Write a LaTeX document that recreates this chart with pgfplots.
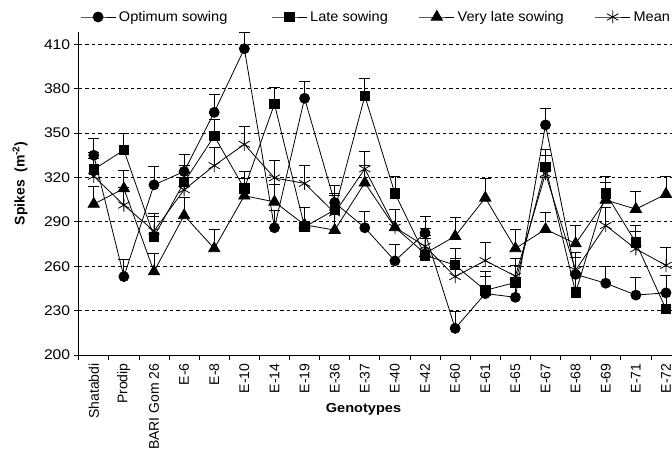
\documentclass[border=0pt]{standalone}
\usepackage{fontspec}
\setmainfont{Liberation Sans}
\newfontfamily\stretchfont[FakeStretch=1.12]{Liberation Sans}
\newfontfamily\legfont[FakeStretch=1.04]{Liberation Sans}
\usepackage{pgfplots}
\pgfplotsset{compat=1.18}
\newcommand\tfont{\stretchfont\fontsize{14bp}{16bp}\selectfont}
\newcommand\lfont{\legfont\fontsize{14bp}{16bp}\selectfont}
\newcommand\rfont{\fontsize{14bp}{16bp}\selectfont}
\begin{document}
\begin{tikzpicture}
\begin{axis}[
  width=593.3bp, height=323.3bp, scale only axis,
  xmin=-0.5, xmax=19.2, ymin=200, ymax=418.5,
  axis x line*=bottom, axis y line*=left,
  axis line style={black, line width=0.8bp},
  clip=false,
  ytick={200,230,...,410},
  /pgf/number format/assume math mode=true,
  yticklabel style={font=\tfont},
  xtick={0,...,19},
  xticklabels={Shatabdi,Prodip,BARI Gom 26,E-6,E-8,E-10,E-14,E-19,E-36,E-37,E-40,E-42,E-60,E-61,E-65,E-67,E-68,E-69,E-71,E-72},
  xticklabel style={font=\rfont, rotate=90, anchor=east},
  major x tick style={draw=none},
  minor xtick={-0.5,0.5,...,18.5},
  tick align=outside,
  major tick length=5bp, minor tick length=5bp,
  tick style={black, line width=0.8bp},
  ymajorgrids,
  grid style={black, line width=0.7bp, dash pattern=on 3.5bp off 3bp},
  every axis y label/.style={at={(rel axis cs:0,0.5)}, anchor=center, rotate=90, xshift=10bp, yshift=58.7bp},
  every axis x label/.style={at={(rel axis cs:0,0)}, anchor=center, xshift=284.8bp, yshift=-54bp},
  ylabel={\fontsize{14bp}{16bp}\selectfont\bfseries Spikes\ \ (m\textsuperscript{-2})},
  xlabel={\stretchfont\fontsize{13bp}{15bp}\selectfont\bfseries Genotypes},
  legend columns=4,
  legend style={draw=none, fill=none, at={(rel axis cs:0,1)}, anchor=west, xshift=-26.7bp, yshift=14.7bp, inner sep=0pt, column sep=0bp, font=\lfont, nodes={inner xsep=3bp, inner ysep=2bp}},
  legend cell align=left,
  legend image code/.code={\path (-28bp,0bp) (35bp,0bp);\draw[mark repeat=2,mark phase=2,#1] plot coordinates {(0bp,0bp)(17.5bp,0bp)(35bp,0bp)};},
  every axis plot/.append style={black, line width=0.8bp},
  error bars/error bar style={black, line width=0.8bp},
  error bars/error mark options={rotate=90, mark size=5.5bp, line width=0.8bp, black},
]
% Optimum sowing
\addplot[black, mark=*, mark size=5bp, mark options={solid, fill=black},
  error bars/.cd, y dir=plus, y explicit] coordinates {
(0,335) +- (0,11.5) (1,253) +- (0,11.3) (2,315) +- (0,12.2) (3,324) +- (0,11.5)
(4,364) +- (0,12.4) (5,407) +- (0,11.3) (6,286) +- (0,11.5) (7,373.5) +- (0,11.3)
(8,303) +- (0,11.5) (9,286) +- (0,11.3) (10,263.6) +- (0,11.3) (11,282.5) +- (0,11.3)
(12,218) +- (0,11.3) (13,241.5) +- (0,11.5) (14,239) +- (0,11.5) (15,355.5) +- (0,11)
(16,254.5) +- (0,11.5) (17,248.5) +- (0,11.3) (18,240.5) +- (0,11.7) (19,242) +- (0,11.5)
};
\addlegendentry{Optimum sowing\kern13bp}
% Late sowing
\addplot[black, mark=square*, mark size=4.7bp, mark options={solid, fill=black},
  error bars/.cd, y dir=plus, y explicit] coordinates {
(0,325.4) +- (0,11.5) (1,338.5) +- (0,11.3) (2,280) +- (0,14) (3,316.8) +- (0,11.5)
(4,348) +- (0,11.5) (5,312.5) +- (0,11.3) (6,369.6) +- (0,11) (7,286.6) +- (0,13)
(8,298) +- (0,11.5) (9,375) +- (0,12) (10,309.2) +- (0,11.7) (11,267.4) +- (0,11.5)
(12,260.7) +- (0,11.3) (13,243.7) +- (0,12.5) (14,249) +- (0,11.5) (15,327.2) +- (0,11.7)
(16,242.2) +- (0,11.5) (17,309.2) +- (0,11.7) (18,276) +- (0,11.3) (19,231) +- (0,11.5)
};
\addlegendentry{Late sowing}
% Very late sowing
\addplot[black, mark=triangle*, mark size=6.5bp, mark options={solid, fill=black},
  error bars/.cd, y dir=plus, y explicit] coordinates {
(0,302) +- (0,11.7) (1,312.5) +- (0,12) (2,256.4) +- (0,12.2) (3,294.3) +- (0,12)
(4,272) +- (0,13) (5,307.6) +- (0,12) (6,303.5) +- (0,12) (7,288) +- (0,12)
(8,284.4) +- (0,12) (9,316.4) +- (0,12) (10,286.2) +- (0,12.4) (11,268.6) +- (0,12)
(12,280.3) +- (0,12.6) (13,306.2) +- (0,13.3) (14,272) +- (0,13) (15,285) +- (0,11.7)
(16,275.3) +- (0,12) (17,304.7) +- (0,12) (18,298.6) +- (0,11.7) (19,308.7) +- (0,12.2)
};
\addlegendentry{Very late sowing}
% Mean
\addplot[black, mark=asterisk, mark size=6.5bp, mark options={solid, line width=0.8bp},
  error bars/.cd, y dir=plus, y explicit] coordinates {
(0,320.8) +- (0,12) (1,301.3) +- (0,12) (2,283.8) +- (0,12) (3,311.7) +- (0,12)
(4,328) +- (0,12) (5,342.4) +- (0,12) (6,319.7) +- (0,12) (7,316) +- (0,12)
(8,296) +- (0,12) (9,325.8) +- (0,12) (10,286.3) +- (0,12) (11,273.5) +- (0,12)
(12,253) +- (0,12) (13,263.8) +- (0,12) (14,253.3) +- (0,12) (15,322.6) +- (0,12)
(16,257.3) +- (0,12) (17,287.5) +- (0,12) (18,271.7) +- (0,12) (19,260.6) +- (0,12)
};
\addlegendentry{Mean}
\end{axis}
\pgfresetboundingbox
\useasboundingbox (-78.7bp,-96bp) rectangle (593.3bp,355bp);
\end{tikzpicture}
\end{document}
